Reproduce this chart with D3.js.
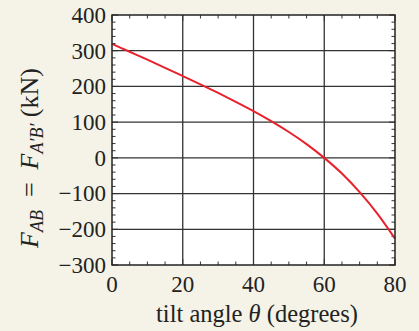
<!DOCTYPE html>
<html><head><meta charset="utf-8">
<script src="https://cdn.jsdelivr.net/npm/d3@7"></script>
<style>
html,body{margin:0;padding:0;background:#f5f2e7;}
svg{display:block;}
text{font-family:"Liberation Serif","Times New Roman",serif;fill:#222;}
</style></head>
<body>
<svg id="c" width="419" height="331"></svg>
<script>
const angles = [0,5,10,15,20,25,30,35,40,45,50,55,60,65,70,75,80];
const forces = [319,297,275,252,229,206,182,157,131,103,72.5,38.5,0,-44,-96,-156,-226];
const xTicks = [0,20,40,60,80];
const yTicks = [-300,-200,-100,0,100,200,300,400];

const svg = d3.select("#c");
const m = {l:112, t:15, r:395, b:265};
const x = d3.scaleLinear().domain([0,80]).range([m.l, m.r]);
const y = d3.scaleLinear().domain([-300,400]).range([m.b, m.t]);

svg.append("rect").attr("x",m.l).attr("y",m.t).attr("width",m.r-m.l).attr("height",m.b-m.t).attr("fill","#fff");

// grid
const g = svg.append("g").attr("stroke","#333").attr("stroke-width",1.3);
xTicks.slice(1,-1).forEach(v=>g.append("line").attr("x1",x(v)).attr("x2",x(v)).attr("y1",m.t).attr("y2",m.b));
yTicks.slice(1,-1).forEach(v=>g.append("line").attr("y1",y(v)).attr("y2",y(v)).attr("x1",m.l).attr("x2",m.r));

// minor ticks inside on all sides
const tg = svg.append("g").attr("stroke","#333").attr("stroke-width",1);
d3.range(0,81,5).forEach(v=>{
  const L = v%20===0?6:3.5;
  tg.append("line").attr("x1",x(v)).attr("x2",x(v)).attr("y1",m.b).attr("y2",m.b-L);
  tg.append("line").attr("x1",x(v)).attr("x2",x(v)).attr("y1",m.t).attr("y2",m.t+L);
});
d3.range(-300,401,20).forEach(v=>{
  const L = v%100===0?6:3.5;
  tg.append("line").attr("y1",y(v)).attr("y2",y(v)).attr("x1",m.l).attr("x2",m.l+L);
  tg.append("line").attr("y1",y(v)).attr("y2",y(v)).attr("x1",m.r).attr("x2",m.r-L);
});

// curve
const line = d3.line().x((d,i)=>x(angles[i])).y(d=>y(d)).curve(d3.curveMonotoneX);
svg.append("path").datum(forces).attr("d",line).attr("fill","none").attr("stroke","#e8212b").attr("stroke-width",2);

// frame
svg.append("rect").attr("x",m.l).attr("y",m.t).attr("width",m.r-m.l).attr("height",m.b-m.t).attr("fill","none").attr("stroke","#222").attr("stroke-width",1.5);

// tick labels
const fs = 23;
xTicks.forEach(v=>svg.append("text").attr("x",x(v)).attr("y",292).attr("text-anchor","middle").attr("font-size",fs).text(v));
yTicks.forEach(v=>svg.append("text").attr("x",106).attr("y",y(v)).attr("dy","0.34em").attr("text-anchor","end").attr("font-size",fs).text(v<0?"\u2212"+(-v):v));

// x label
const xl = svg.append("text").attr("x",257).attr("y",322).attr("text-anchor","middle").attr("font-size",24.5);
xl.append("tspan").text("tilt angle ");
xl.append("tspan").attr("font-style","italic").text("θ");
xl.append("tspan").text(" (degrees)");

// y label
const yl = svg.append("text").attr("transform","translate(38,158) rotate(-90)").attr("text-anchor","middle").attr("font-size",26);
yl.append("tspan").attr("font-style","italic").text("F");
yl.append("tspan").attr("font-style","italic").attr("font-size",18).attr("dy",5).text("AB");
yl.append("tspan").attr("dy",-5).text("\u2002=\u2002");
yl.append("tspan").attr("font-style","italic").text("F");
yl.append("tspan").attr("font-style","italic").attr("font-size",18).attr("dy",5).text("A\u2032B\u2032");
yl.append("tspan").attr("dy",-5).text(" (kN)");
</script>
</body></html>
